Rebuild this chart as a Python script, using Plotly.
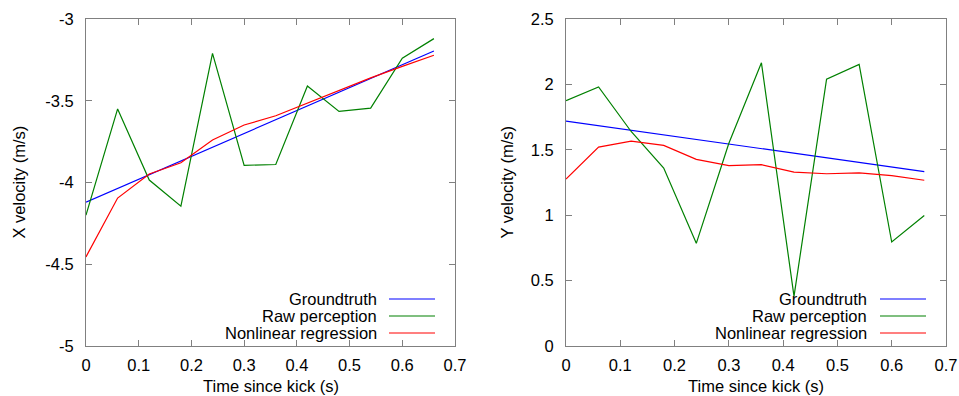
import plotly.graph_objects as go

time_s = [0.0, 0.06, 0.12, 0.18, 0.24, 0.30, 0.36, 0.42, 0.48, 0.54, 0.60, 0.66]

x_groundtruth = [-4.12, -4.036, -3.952, -3.868, -3.784, -3.70, -3.616, -3.532, -3.448, -3.364, -3.28, -3.196]
x_raw = [-4.20, -3.55, -3.985, -4.145, -3.21, -3.895, -3.89, -3.41, -3.565, -3.545, -3.24, -3.12]
x_regression = [-4.455, -4.095, -3.948, -3.879, -3.74, -3.648, -3.592, -3.516, -3.44, -3.36, -3.29, -3.222]

y_groundtruth = [1.72, 1.685, 1.65, 1.615, 1.579, 1.544, 1.509, 1.474, 1.439, 1.404, 1.368, 1.333]
y_raw = [1.876, 1.98, 1.64, 1.36, 0.785, 1.55, 2.165, 0.38, 2.04, 2.153, 0.795, 0.997]
y_regression = [1.277, 1.52, 1.567, 1.534, 1.427, 1.379, 1.386, 1.33, 1.317, 1.323, 1.302, 1.267]

series_names = ["Groundtruth", "Raw perception", "Nonlinear regression"]
series_colors = ["#0000ff", "#008000", "#ff0000"]

x_ticks = [0, 0.1, 0.2, 0.3, 0.4, 0.5, 0.6, 0.7]
x_tick_labels = ["0", "0.1", "0.2", "0.3", "0.4", "0.5", "0.6", "0.7"]
left_y_ticks = [-5, -4.5, -4, -3.5, -3]
left_y_labels = ["-5", "-4.5", "-4", "-3.5", "-3"]
right_y_ticks = [0, 0.5, 1, 1.5, 2, 2.5]
right_y_labels = ["0", "0.5", "1", "1.5", "2", "2.5"]

x_title = "Time since kick (s)"
left_y_title = "X velocity (m/s)"
right_y_title = "Y velocity (m/s)"

W, H = 959, 396
FONT = "Liberation Sans, Arial, sans-serif"
AXCOL = "#808080"
FS = 16.5

fig = go.Figure()

left_series = [x_groundtruth, x_raw, x_regression]
right_series = [y_groundtruth, y_raw, y_regression]
for vals, name, col in zip(left_series, series_names, series_colors):
    fig.add_trace(go.Scatter(x=time_s, y=vals, mode="lines", name=name,
                             line=dict(color=col, width=1.2), xaxis="x", yaxis="y",
                             showlegend=False))
for vals, name, col in zip(right_series, series_names, series_colors):
    fig.add_trace(go.Scatter(x=time_s, y=vals, mode="lines", name=name,
                             line=dict(color=col, width=1.2), xaxis="x2", yaxis="y2",
                             showlegend=False))

y0 = 1 - 346 / H
y1 = 1 - 19 / H

def xaxis(domain, anchor):
    return dict(domain=domain, anchor=anchor, range=[0, 0.7], tickvals=x_ticks,
                ticktext=x_tick_labels, ticks="inside", ticklen=6, tickcolor=AXCOL,
                showline=True, linecolor=AXCOL, linewidth=1, mirror="ticks",
                showgrid=False, zeroline=False, automargin=False,
                ticklabelstandoff=4,
                tickfont=dict(size=FS, color="black"))

def yaxis(domain, anchor, rng, tv, tt):
    return dict(domain=domain, anchor=anchor, range=rng, tickvals=tv, ticktext=tt,
                ticks="inside", ticklen=6, tickcolor=AXCOL, showline=True, linecolor=AXCOL,
                linewidth=1, mirror="ticks", showgrid=False, zeroline=False, automargin=False,
                ticklabelstandoff=8,
                tickfont=dict(size=FS, color="black"))

fig.update_layout(
    width=W, height=H,
    margin=dict(l=0, r=0, t=0, b=0, autoexpand=False),
    paper_bgcolor="white", plot_bgcolor="white",
    font=dict(family=FONT, size=FS, color="black"),
    xaxis=xaxis([86 / W, 455 / W], "y"),
    yaxis=yaxis([y0, y1], "x", [-5, -3], left_y_ticks, left_y_labels),
    xaxis2=xaxis([566 / W, 946 / W], "y2"),
    yaxis2=yaxis([y0, y1], "x2", [0, 2.5], right_y_ticks, right_y_labels),
    showlegend=False,
)

# Axis titles
for cx in [(86 + 455) / 2, (566 + 946) / 2]:
    fig.add_annotation(x=cx / W, y=1 - 386 / H, xref="paper", yref="paper", text=x_title,
                       showarrow=False, xanchor="center", yanchor="middle",
                       font=dict(size=FS, color="black", family=FONT))
for cx, t in [(18, left_y_title), (506, right_y_title)]:
    fig.add_annotation(x=cx / W, y=1 - 182.5 / H, xref="paper", yref="paper", text=t,
                       textangle=-90, showarrow=False, xanchor="center", yanchor="middle",
                       font=dict(size=FS, color="black", family=FONT))

# Manual gnuplot-style legends (text right-aligned, sample line to the right)
legend_rows_px = [299, 316, 333]
for text_right, line_l, line_r in [(379, 389, 435), (869, 880, 926)]:
    for name, col, ry in zip(series_names, series_colors, legend_rows_px):
        yp = 1 - ry / H
        fig.add_annotation(x=text_right / W, y=yp, xref="paper", yref="paper",
                           text=name, showarrow=False, xanchor="right", yanchor="middle",
                           font=dict(size=FS, color="black", family=FONT))
        fig.add_shape(type="line", xref="paper", yref="paper",
                      x0=line_l / W, x1=line_r / W, y0=yp, y1=yp,
                      line=dict(color=col, width=1.2))

fig.write_html("out.html",
               config={"displayModeBar": False},
               post_script="document.body.style.margin='0';document.body.style.overflow='hidden';")
